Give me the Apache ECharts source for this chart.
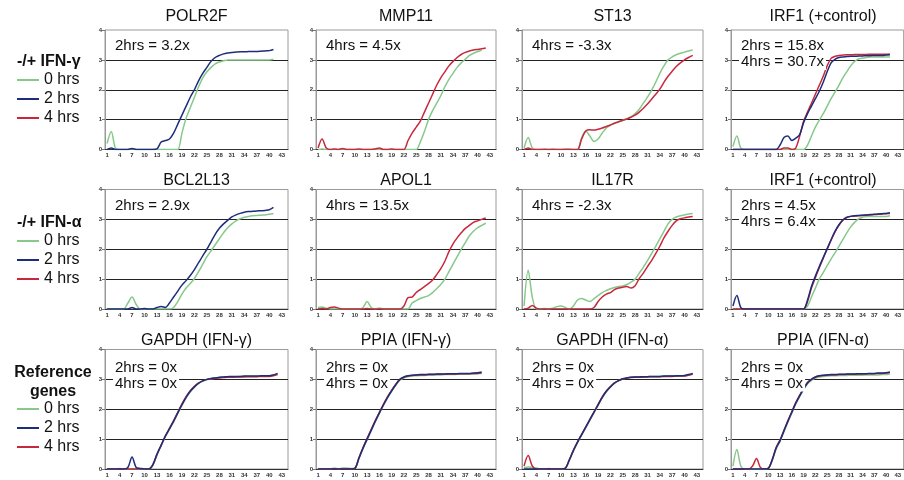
<!DOCTYPE html>
<html>
<head>
<meta charset="utf-8">
<script src="https://cdn.jsdelivr.net/npm/echarts@6/dist/echarts.min.js"></script>
<style>
  html, body { margin: 0; padding: 0; background: #fff; }
  #main { width: 904px; height: 480px; }
</style>
</head>
<body>
<div id="main"></div>
<script>
// PCR cycles on the x axis
var cycles = [1,2,3,4,5,6,7,8,9,10,11,12,13,14,15,16,17,18,19,20,21,22,23,24,25,26,27,28,29,30,31,32,33,34,35,36,37,38,39,40,41,42,43,44];

var titles = ['POLR2F', 'MMP11', 'ST13', 'IRF1 (+control)',
              'BCL2L13', 'APOL1', 'IL17R', 'IRF1 (+control)',
              'GAPDH (IFN-γ)', 'PPIA (IFN-γ)', 'GAPDH (IFN-α)', 'PPIA (IFN-α)'];
var notes = ['2hrs = 3.2x', '4hrs = 4.5x', '4hrs = -3.3x', '2hrs = 15.8x\n4hrs = 30.7x',
             '2hrs = 2.9x', '4hrs = 13.5x', '4hrs = -2.3x', '2hrs = 4.5x\n4hrs = 6.4x',
             '2hrs = 0x\n4hrs = 0x', '2hrs = 0x\n4hrs = 0x', '2hrs = 0x\n4hrs = 0x', '2hrs = 0x\n4hrs = 0x'];
var groupLabels = ['-/+ IFN-γ', '-/+ IFN-α', 'Reference\ngenes'];
var legendNames = ['0 hrs', '2 hrs', '4 hrs'];

// fluorescence per cycle: _0 = 0 hrs, _2 = 2 hrs, _4 = 4 hrs
var polr2f_0 = [0.2,0.6,0.05,0,0,0,0.02,0,0,0, 0,0,0,0,0,0,0,0,0.55,1.05, 1.4,1.75,2.1,2.4,2.6,2.75,2.87,2.93,2.97,3.0, 3.0,3.0,3.0,3.0,3.0,3.0,3.0,3.0,3.0,3.0, 3.02];
var polr2f_2 = [0,0.05,0,0,0,0,0.03,0,0,0, 0,0,0.02,0.25,0.3,0.35,0.55,0.85,1.15,1.45, 1.75,2.0,2.3,2.55,2.75,2.95,3.08,3.15,3.2,3.23, 3.25,3.26,3.27,3.27,3.28,3.28,3.28,3.29,3.3,3.31, 3.35];
var polr2f_4 = [];

var mmp11_0 = [0,0.02,0,0,0,0,0,0,0,0, 0,0,0,0,0,0,0,0,0,0, 0,0,0,0,0,0.25,0.6,1.0,1.3,1.55, 1.8,2.1,2.35,2.55,2.75,2.9,3.02,3.15,3.22,3.28, 3.32];
var mmp11_2 = [];
var mmp11_4 = [0.05,0.35,0.05,0,0.02,0,0.03,0,0,0, 0.02,0,0,0,0.02,0.05,0,0,0.02,0, 0,0,0.3,0.55,0.75,0.95,1.25,1.55,1.85,2.15, 2.4,2.6,2.8,2.95,3.08,3.18,3.25,3.3,3.33,3.35, 3.37,3.4];

var st13_0 = [0.05,0.4,0.05,0,0,0.02,0,0.02,0,0, 0.02,0.02,0,0,0.4,0.62,0.45,0.27,0.35,0.55, 0.72,0.82,0.88,0.93,0.98,1.03,1.1,1.2,1.35,1.55, 1.75,1.98,2.25,2.55,2.8,3.0,3.1,3.17,3.22,3.26, 3.3,3.33];
var st13_2 = [];
var st13_4 = [0,0.05,0,0,0,0,0,0,0,0, 0,0,0,0,0.35,0.62,0.66,0.65,0.68,0.72, 0.77,0.82,0.88,0.93,0.98,1.02,1.08,1.15,1.25,1.38, 1.52,1.68,1.85,2.02,2.25,2.45,2.62,2.78,2.9,3.0, 3.08,3.15];

var irf1g_0 = [0.1,0.45,0.05,0,0,0,0,0,0,0, 0,0,0,0,0,0,0,0,0,0.15, 0.45,0.75,0.98,1.2,1.45,1.7,1.92,2.15,2.4,2.6, 2.8,2.95,3.03,3.06,3.08,3.1,3.1,3.1,3.1,3.1, 3.1];
var irf1g_2 = [0,0,0,0,0,0,0,0,0,0, 0,0,0.15,0.4,0.45,0.3,0.38,0.5,0.9,1.2, 1.45,1.7,1.95,2.25,2.6,2.9,3.02,3.08,3.1,3.11, 3.12,3.12,3.13,3.13,3.14,3.14,3.15,3.15,3.15,3.16, 3.17];
var irf1g_4 = [0,0,0,0,0,0,0,0,0,0, 0,0,0,0.05,0.05,0,0.05,0.45,0.95,1.25, 1.55,1.85,2.15,2.45,2.8,3.05,3.12,3.15,3.16,3.17, 3.17,3.18,3.18,3.18,3.18,3.19,3.19,3.19,3.19,3.19, 3.2];

var bcl2l13_0 = [0,0,0,0,0,0.2,0.4,0.15,0,0, 0,0,0,0,0,0,0.05,0.25,0.5,0.7, 0.85,1.02,1.25,1.5,1.75,1.95,2.15,2.35,2.55,2.72, 2.85,2.95,3.02,3.07,3.1,3.12,3.13,3.14,3.15,3.17, 3.2];
var bcl2l13_2 = [0,0,0,0,0,0,0.05,0,0,0.02, 0,0,0.05,0.08,0.05,0.2,0.4,0.6,0.8,0.95, 1.12,1.32,1.55,1.78,2.0,2.25,2.5,2.7,2.85,2.97, 3.08,3.15,3.2,3.24,3.26,3.27,3.28,3.29,3.3,3.32, 3.4];
var bcl2l13_4 = [];

var apol1_0 = [0.05,0.07,0.03,0,0,0,0,0,0,0, 0,0.05,0.25,0.05,0,0.03,0,0,0,0, 0,0,0,0.2,0.28,0.35,0.4,0.45,0.55,0.68, 0.82,1.0,1.25,1.5,1.75,2.0,2.22,2.45,2.6,2.72, 2.8,2.87];
var apol1_2 = [];
var apol1_4 = [0,0.02,0,0.05,0.07,0.03,0,0,0,0, 0,0,0.02,0,0,0,0,0,0,0, 0,0.1,0.38,0.4,0.55,0.65,0.75,0.85,0.97,1.15, 1.35,1.6,1.92,2.18,2.38,2.55,2.7,2.8,2.9,2.95, 3.0,3.05];

var il17r_0 = [0.1,1.3,0.4,0,0,0.02,0,0.03,0.08,0.1, 0.05,0,0.1,0.3,0.35,0.3,0.25,0.35,0.45,0.55, 0.62,0.68,0.72,0.75,0.77,0.82,0.9,1.0,1.2,1.4, 1.62,1.85,2.1,2.35,2.6,2.85,3.0,3.08,3.12,3.15, 3.18,3.2];
var il17r_2 = [];
var il17r_4 = [0,0.03,0.12,0.03,0,0,0,0,0,0, 0,0,0,0,0,0,0,0.05,0.25,0.4, 0.5,0.55,0.65,0.7,0.73,0.75,0.7,0.78,1.02,1.2, 1.42,1.62,1.85,2.1,2.38,2.6,2.8,2.95,3.02,3.05, 3.08,3.1];

var irf1a_0 = [0,0.02,0,0,0,0,0,0,0,0, 0,0,0,0,0,0,0,0,0,0.1, 0.4,0.7,1.0,1.22,1.45,1.67,1.88,2.1,2.32,2.55, 2.75,2.9,3.02,3.07,3.1,3.1,3.1,3.1,3.1,3.1, 3.12];
var irf1a_2 = [0.1,0.45,0.05,0,0,0,0,0,0,0, 0,0,0,0,0,0,0,0,0,0.3, 0.75,1.1,1.42,1.72,2.02,2.32,2.6,2.82,2.98,3.07, 3.1,3.12,3.13,3.14,3.15,3.16,3.17,3.18,3.19,3.2, 3.22];
var irf1a_4 = [0,0,0,0,0,0,0,0,0,0, 0,0,0,0,0,0,0,0,0,0.25, 0.7,1.05,1.38,1.7,2.0,2.3,2.58,2.8,2.97,3.06, 3.1,3.11,3.12,3.13,3.14,3.15,3.16,3.17,3.18,3.19, 3.2];

var gapdhg_0 = [0,0,0,0.02,0,0,0,0,0,0, 0,0.12,0.47,0.78,1.08,1.33,1.58,1.86,2.13,2.38, 2.58,2.74,2.86,2.94,2.99,3.02,3.04,3.06,3.07,3.08, 3.09,3.09,3.1,3.1,3.1,3.1,3.1,3.11,3.11,3.12, 3.14,3.18];
var gapdhg_2 = [0,0,0,0,0,0.05,0.4,0.05,0.02,0, 0,0.15,0.5,0.8,1.1,1.35,1.6,1.88,2.15,2.4, 2.6,2.75,2.87,2.95,3.0,3.03,3.05,3.07,3.08,3.09, 3.1,3.1,3.1,3.11,3.11,3.11,3.11,3.12,3.12,3.12, 3.15,3.2];
var gapdhg_4 = [0,0,0,0,0,0,0,0,0,0, 0,0.13,0.48,0.79,1.1,1.36,1.62,1.9,2.18,2.42, 2.62,2.77,2.88,2.95,3.0,3.02,3.04,3.05,3.06,3.07, 3.07,3.08,3.08,3.08,3.09,3.09,3.09,3.1,3.1,3.1, 3.12,3.16];

var ppiag_0 = [0,0,0,0,0.03,0,0.03,0.03,0.02,0.02, 0.35,0.68,0.98,1.28,1.58,1.86,2.13,2.38,2.6,2.8, 2.97,3.05,3.09,3.11,3.12,3.13,3.13,3.14,3.14,3.15, 3.15,3.16,3.16,3.16,3.17,3.17,3.17,3.18,3.18,3.19, 3.2];
var ppiag_2 = [0,0,0,0,0,0,0,0,0,0.02, 0.36,0.7,1.0,1.3,1.6,1.88,2.15,2.4,2.62,2.82, 3.0,3.08,3.12,3.14,3.15,3.16,3.16,3.17,3.17,3.18, 3.18,3.18,3.19,3.19,3.19,3.2,3.2,3.2,3.21,3.22, 3.25];
var ppiag_4 = [0,0,0,0,0,0,0,0,0,0.02, 0.38,0.72,1.03,1.33,1.63,1.9,2.17,2.42,2.64,2.84, 3.0,3.07,3.11,3.13,3.14,3.15,3.15,3.16,3.16,3.17, 3.17,3.17,3.18,3.18,3.18,3.19,3.19,3.19,3.2,3.2, 3.22];

var gapdha_0 = [0.05,0.07,0.05,0.03,0,0,0.02,0,0,0, 0.02,0.28,0.6,0.88,1.13,1.38,1.63,1.88,2.13,2.38, 2.58,2.74,2.87,2.96,3.02,3.05,3.07,3.08,3.08,3.09, 3.09,3.1,3.1,3.1,3.1,3.11,3.11,3.11,3.12,3.12, 3.15,3.18];
var gapdha_2 = [0,0,0,0,0,0,0,0,0,0, 0.02,0.3,0.62,0.9,1.15,1.4,1.65,1.9,2.15,2.4, 2.6,2.75,2.88,2.96,3.02,3.05,3.07,3.08,3.08,3.09, 3.09,3.1,3.1,3.1,3.11,3.11,3.11,3.12,3.12,3.13, 3.16,3.2];
var gapdha_4 = [0.1,0.45,0.1,0,0,0,0,0,0,0, 0.02,0.31,0.63,0.91,1.16,1.41,1.66,1.91,2.16,2.41, 2.61,2.76,2.88,2.96,3.01,3.04,3.06,3.07,3.07,3.08, 3.08,3.09,3.09,3.09,3.1,3.1,3.1,3.11,3.11,3.11, 3.14,3.17];

var ppiaa_0 = [0.1,0.65,0.1,0,0,0,0,0,0,0.02, 0.28,0.66,0.93,1.25,1.57,1.87,2.17,2.42,2.65,2.85, 2.97,3.04,3.08,3.1,3.11,3.12,3.12,3.13,3.13,3.13, 3.14,3.14,3.14,3.14,3.15,3.15,3.15,3.15,3.16,3.16, 3.18];
var ppiaa_2 = [0,0,0,0,0,0,0,0,0,0.02, 0.3,0.7,0.95,1.28,1.6,1.9,2.2,2.45,2.68,2.88, 3.0,3.08,3.12,3.14,3.15,3.16,3.16,3.17,3.17,3.18, 3.18,3.18,3.19,3.19,3.19,3.2,3.2,3.21,3.21,3.22, 3.25];
var ppiaa_4 = [0,0,0,0,0,0.1,0.35,0.05,0,0.02, 0.32,0.72,0.98,1.3,1.62,1.92,2.22,2.47,2.7,2.9, 3.0,3.07,3.11,3.13,3.14,3.15,3.15,3.16,3.16,3.17, 3.17,3.17,3.18,3.18,3.18,3.19,3.19,3.2,3.2,3.21, 3.23];

var hrs0 = [polr2f_0, mmp11_0, st13_0, irf1g_0, bcl2l13_0, apol1_0, il17r_0, irf1a_0, gapdhg_0, ppiag_0, gapdha_0, ppiaa_0];
var hrs2 = [polr2f_2, mmp11_2, st13_2, irf1g_2, bcl2l13_2, apol1_2, il17r_2, irf1a_2, gapdhg_2, ppiag_2, gapdha_2, ppiaa_2];
var hrs4 = [polr2f_4, mmp11_4, st13_4, irf1g_4, bcl2l13_4, apol1_4, il17r_4, irf1a_4, gapdhg_4, ppiag_4, gapdha_4, ppiaa_4];

// layout
var colLeft = [105, 316, 522, 731];
var colWidth = [183, 180, 181, 184];
var rowTop = [30, 189.5, 349.5];
var plotH = 119.5;
var GREEN = '#86c98a', BLUE = '#1d2d7a', RED = '#c8283c';

var grids = [], xAxes = [], yAxes = [], series = [], titleList = [];

for (var i = 0; i < 12; i++) {
  var row = Math.floor(i / 4), col = i % 4;
  grids.push({
    left: colLeft[col], top: rowTop[row], width: colWidth[col], height: plotH,
    show: true, borderColor: '#9a9a9a', borderWidth: 1
  });
  xAxes.push({
    type: 'category', gridIndex: i, data: cycles, boundaryGap: true,
    axisLine: { lineStyle: { color: '#333' } },
    axisTick: { interval: 0, alignWithLabel: true, length: 2, lineStyle: { color: '#555' } },
    axisLabel: { interval: 2, fontSize: 6, fontWeight: 'bold', color: '#333', margin: 3, hideOverlap: false },
    splitLine: { show: false }
  });
  yAxes.push({
    type: 'value', gridIndex: i, min: 0, max: 4, interval: 1,
    axisLine: { show: true, lineStyle: { color: '#999' } },
    axisTick: { show: true, length: 3, lineStyle: { color: '#777' } },
    axisLabel: { fontSize: 6, fontWeight: 'bold', color: '#333', margin: 3 },
    splitLine: { show: true, showMinLine: false, showMaxLine: false, lineStyle: { color: '#222', width: 1 } }
  });
  [[hrs0[i], '0 hrs', GREEN], [hrs4[i], '4 hrs', RED], [hrs2[i], '2 hrs', BLUE]].forEach(function (s) {
    series.push({
      type: 'line', name: s[1], xAxisIndex: i, yAxisIndex: i, data: s[0],
      smooth: 0.3, symbol: 'none', silent: true,
      lineStyle: { color: s[2], width: 1.5 }, itemStyle: { color: s[2] }
    });
  });
  titleList.push({
    text: titles[i], left: colLeft[col] + colWidth[col] / 2, top: rowTop[row] - (row === 0 ? 21 : 17),
    textAlign: 'center', padding: 0,
    textStyle: { fontSize: 16, fontWeight: 'normal', color: '#111' }
  });
  titleList.push({
    text: notes[i], left: colLeft[col] + 8, top: rowTop[row] + (row === 2 ? 10 : 8),
    padding: [0, 2], backgroundColor: '#fff',
    textStyle: { fontSize: 15, fontWeight: 'normal', color: '#111', lineHeight: 16 }
  });
}

// group headers at the left
titleList.push({ text: groupLabels[0], left: 17, top: 54, padding: 0,
  textStyle: { fontSize: 16, fontWeight: 'bold', color: '#111' } });
titleList.push({ text: groupLabels[1], left: 17, top: 215, padding: 0,
  textStyle: { fontSize: 16, fontWeight: 'bold', color: '#111' } });
titleList.push({ text: groupLabels[2], left: 53, top: 363, padding: 0, textAlign: 'center',
  textStyle: { fontSize: 16, fontWeight: 'bold', color: '#111', lineHeight: 19 } });

var legends = [72, 233, 401].map(function (t) {
  return {
    orient: 'vertical', left: 17, top: t, padding: 0, itemGap: 3,
    itemWidth: 22, itemHeight: 2, icon: 'rect', data: legendNames,
    textStyle: { fontSize: 16, color: '#111', lineHeight: 16 }
  };
});

var myChart = echarts.init(document.getElementById('main'));
var option = {
  animation: false,
  textStyle: { fontFamily: 'Liberation Sans, Arial, sans-serif' },
  title: titleList,
  legend: legends,
  grid: grids,
  xAxis: xAxes,
  yAxis: yAxes,
  series: series
};
myChart.setOption(option);
</script>
</body>
</html>
